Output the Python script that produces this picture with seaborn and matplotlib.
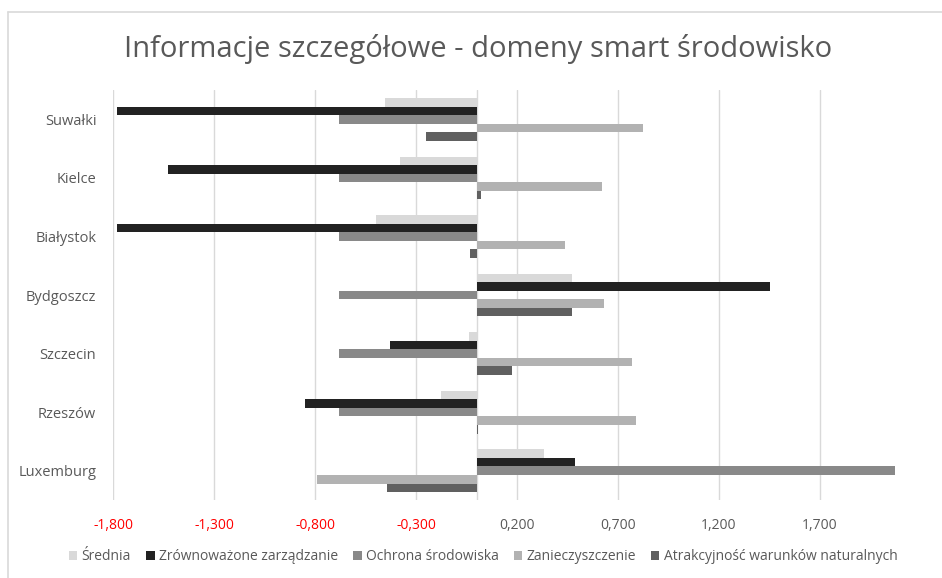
import matplotlib
matplotlib.use("Agg")
import matplotlib.pyplot as plt
from matplotlib.lines import Line2D
import pandas as pd
import seaborn as sns

# Data
cities = ['Suwałki', 'Kielce', 'Białystok', 'Bydgoszcz', 'Szczecin', 'Rzeszów', 'Luxemburg']
series = ['Średnia', 'Zrównoważone zarządzanie', 'Ochrona środowiska',
          'Zanieczyszczenie', 'Atrakcyjność warunków naturalnych']
srednia = [-0.453, -0.378, -0.497, 0.473, -0.040, -0.174, 0.333]
zarzadzanie = [-1.780, -1.527, -1.780, 1.453, -0.430, -0.850, 0.488]
ochrona = [-0.680, -0.680, -0.680, -0.680, -0.680, -0.680, 2.070]
zanieczyszczenie = [0.826, 0.622, 0.437, 0.632, 0.771, 0.791, -0.791]
atrakcyjnosc = [-0.249, 0.020, -0.033, 0.473, 0.174, 0.008, -0.443]
tick_values = [-1.8, -1.3, -0.8, -0.3, 0.2, 0.7, 1.2, 1.7]
tick_labels = ['-1,800', '-1,300', '-0,800', '-0,300', '0,200', '0,700', '1,200', '1,700']
colors = ['#d9d9d9', '#222222', '#898989', '#b2b2b2', '#606060']

rows = []
for name, vals in zip(series, [srednia, zarzadzanie, ochrona, zanieczyszczenie, atrakcyjnosc]):
    for city, v in zip(cities, vals):
        rows.append({'miasto': city, 'seria': name, 'wartosc': v})
df = pd.DataFrame(rows)

sns.set_style('white')
plt.rcParams['font.family'] = ['Open Sans', 'DejaVu Sans']

fig = plt.figure(figsize=(9.42, 5.78), dpi=100)
ax = fig.add_axes([0.12, 0.135, 0.832, 0.709])

sns.barplot(data=df, x='wartosc', y='miasto', hue='seria', order=cities,
            hue_order=series, palette=colors, orient='h', width=0.73,
            errorbar=None, saturation=1, linewidth=0, ax=ax, legend=True, zorder=3)

ax.set_xlim(-1.8, 2.08)
ax.set_ylim(6.5, -0.5)
ax.set_xticks(tick_values)
ax.set_xticklabels(tick_labels)
for lab, v in zip(ax.get_xticklabels(), tick_values):
    lab.set_color('#ff0000' if v < 0 else '#595959')
ax.tick_params(axis='x', length=0, labelsize=10, pad=13)
ax.tick_params(axis='y', length=0, labelsize=10.5, colors='#595959', pad=12)
ax.grid(axis='x', color='#d9d9d9', linewidth=1, zorder=0)
ax.axvline(0, color='#d9d9d9', linewidth=1, zorder=1)
for s in ax.spines.values():
    s.set_visible(False)
ax.set_xlabel('')
ax.set_ylabel('')

handles, labels = ax.get_legend_handles_labels()
ax.legend(handles, labels, loc='center', bbox_to_anchor=(0.513, 1 - 557 / 578),
          bbox_transform=fig.transFigure, ncol=5, frameon=False, fontsize=10,
          handlelength=0.6, handleheight=0.6, handletextpad=0.3, columnspacing=1.1,
          labelcolor='#595959')

fig.text(0.507, 0.916, 'Informacje szczegółowe - domeny smart środowisko',
         ha='center', va='center', fontsize=21, color='#595959')

# chart border (top and left edges visible in reference)
fig.add_artist(Line2D([8 / 942, 8 / 942], [0, 1 - 12 / 578], transform=fig.transFigure,
                      color='#d9d9d9', linewidth=1.2))
fig.add_artist(Line2D([8 / 942, 1], [1 - 12 / 578, 1 - 12 / 578], transform=fig.transFigure,
                      color='#d9d9d9', linewidth=1.2))

fig.savefig('out.png', dpi=100)
